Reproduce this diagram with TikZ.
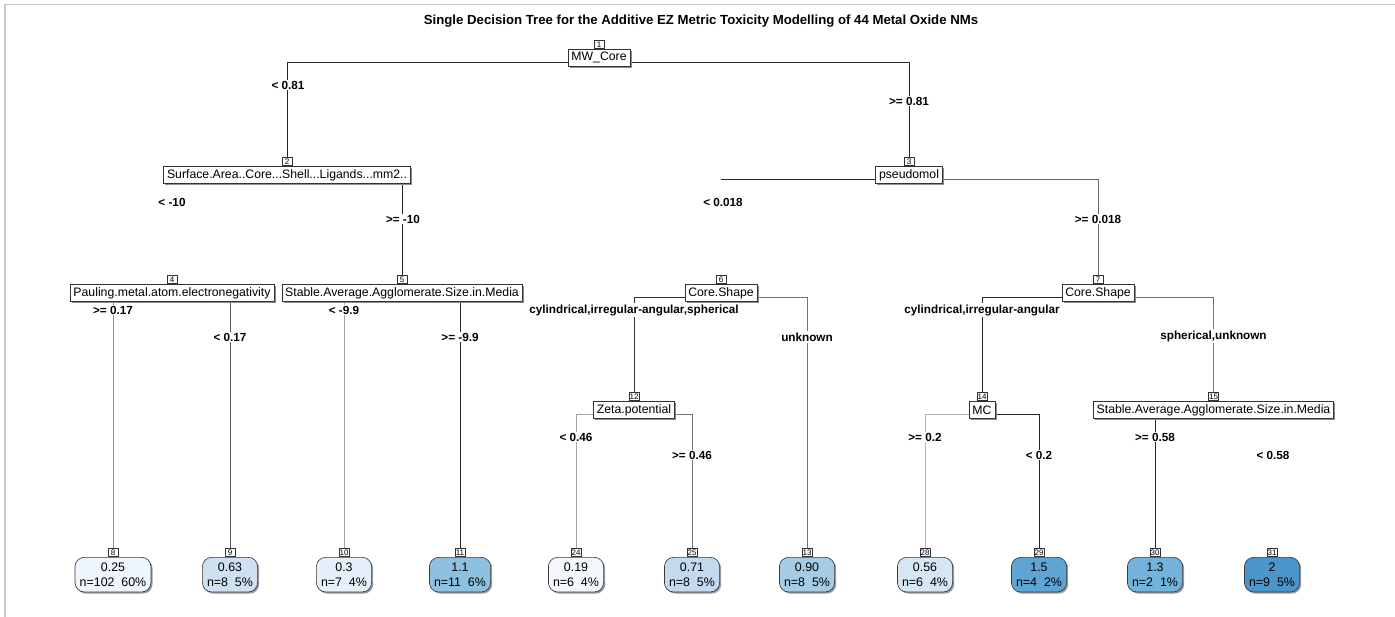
\documentclass[tikz,border=0pt]{standalone}
\usepackage{fontspec}
\setmainfont{Liberation Sans}
\usetikzlibrary{shadows,backgrounds}
\definecolor{framegray}{HTML}{C8C8C8}
\definecolor{leafborder}{HTML}{3A3A3A}
\definecolor{cA}{HTML}{EEF5FC}
\definecolor{cB}{HTML}{CFE0F2}
\definecolor{cC}{HTML}{E6F0FA}
\definecolor{cD}{HTML}{8EC1DF}
\definecolor{cE}{HTML}{F4F8FD}
\definecolor{cF}{HTML}{C3D9EE}
\definecolor{cG}{HTML}{A6CBE4}
\definecolor{cH}{HTML}{D6E6F4}
\definecolor{cI}{HTML}{5EA5D4}
\definecolor{cJ}{HTML}{73B2DA}
\definecolor{cK}{HTML}{4A96CB}
\tikzset{
  splitbox/.style={draw=black!80, fill=white, line width=0.5pt,
    font=\fontsize{9.2}{10}\selectfont, inner xsep=2.5pt, inner ysep=0pt,
    minimum height=12.75pt, anchor=north,
    drop shadow={shadow xshift=1.3pt, shadow yshift=-1.3pt, fill=black!45, opacity=1}},
  numbox/.style={draw=black!80, fill=white, line width=0.4pt,
    font=\fontsize{6}{6}\selectfont, inner sep=0.5pt,
    minimum width=7.5pt, minimum height=6.5pt, anchor=south},
  brlab/.style={font=\bfseries\fontsize{8.8}{10}\selectfont, fill=white, inner sep=1pt},
  leafbox/.style={draw=leafborder, line width=0.5pt, rounded corners=7pt,
    align=center, font=\fontsize{9.3}{11.5}\selectfont,
    inner xsep=3.5pt, inner ysep=1pt, minimum height=26pt, anchor=north,
    drop shadow={shadow xshift=1.2pt, shadow yshift=-1.2pt, fill=black!40, opacity=1, rounded corners=7pt}},
  branch/.style={line width=0.6pt}
}
\begin{document}
\begin{tikzpicture}[x=0.75pt,y=-0.75pt]
\begin{scope}[on background layer]
\fill[white] (0,0) rectangle (1395,617);
\end{scope}
\useasboundingbox (0,0) rectangle (1395,617);
\draw[framegray, line width=1.2pt] (5,617) -- (5,4.5) -- (1395,4.5);

\node[font=\bfseries\fontsize{9.9}{11}\selectfont] (title) at (701,21)
  {Single Decision Tree for the Additive EZ Metric Toxicity Modelling of 44 Metal Oxide NMs};

% split nodes
\node[splitbox] (n1) at (599,49) {MW\_Core};
\node[splitbox] (n2) at (287,166) {Surface.Area..Core...Shell...Ligands...mm2..};
\node[splitbox] (n3) at (909,166) {pseudomol};
\node[splitbox] (n4) at (172,284) {Pauling.metal.atom.electronegativity};
\node[splitbox] (n5) at (402,284) {Stable.Average.Agglomerate.Size.in.Media};
\node[splitbox] (n6) at (721,284) {Core.Shape};
\node[splitbox] (n7) at (1098,284) {Core.Shape};
\node[splitbox] (n12) at (634,401) {Zeta.potential};
\node[splitbox] (n14) at (982,401) {MC};
\node[splitbox] (n15) at (1213.5,401) {Stable.Average.Agglomerate.Size.in.Media};

\foreach \n/\t in {n1/1,n2/2,n3/3,n4/4,n5/5,n6/6,n7/7,n12/12,n14/14,n15/15}
  \node[numbox] (k\t) at (\n.north) {\t};

% leaves
\node[leafbox, fill=cA] (l8)  at (113,557)  {0.25\\n=102~ 60\%};
\node[leafbox, fill=cB] (l9)  at (230,557)  {0.63\\n=8~ 5\%};
\node[leafbox, fill=cC] (l10) at (344,557)  {0.3\\n=7~ 4\%};
\node[leafbox, fill=cD] (l11) at (460,557)  {1.1\\n=11~ 6\%};
\node[leafbox, fill=cE] (l24) at (576,557)  {0.19\\n=6~ 4\%};
\node[leafbox, fill=cF] (l25) at (692,557)  {0.71\\n=8~ 5\%};
\node[leafbox, fill=cG] (l13) at (807,557)  {0.90\\n=8~ 5\%};
\node[leafbox, fill=cH] (l28) at (925,557)  {0.56\\n=6~ 4\%};
\node[leafbox, fill=cI] (l29) at (1039,557) {1.5\\n=4~ 2\%};
\node[leafbox, fill=cJ] (l30) at (1155,557) {1.3\\n=2~ 1\%};
\node[leafbox, fill=cK] (l31) at (1272,557) {2\\n=9~ 5\%};

\foreach \t in {8,9,10,11,24,25,13,28,29,30,31}
  \node[numbox] (k\t) at (l\t.north) {\t};

% split-line levels
\coordinate (h1) at (599,62);
\coordinate (h3) at (909,179);
\coordinate (h6) at (721,297);
\coordinate (h7) at (1098,297);
\coordinate (h12) at (634,414);
\coordinate (h14) at (982,414);

\begin{scope}[on background layer, branch]
  \draw[black!85] (n1.west |- h1) -| (k2.north);
  \draw[black!85] (n1.east |- h1) -| (k3.north);
  \draw[black!85] (k5.north |- n2.south) -- (k5.north);
  \draw[black!85] (n3.west |- h3) -- (h3 -| k6.north);
  \draw[black!60] (n3.east |- h3) -| (k7.north);
  \draw[black!45] (k8.north |- n4.south) -- (k8.north);
  \draw[black!65] (k9.north |- n4.south) -- (k9.north);
  \draw[black!35] (k10.north |- n5.south) -- (k10.north);
  \draw[black!85] (k11.north |- n5.south) -- (k11.north);
  \draw[black!80] (n6.west |- h6) -| (k12.north);
  \draw[black!55] (n6.east |- h6) -| (k13.north);
  \draw[black!85] (n7.west |- h7) -| (k14.north);
  \draw[black!55] (n7.east |- h7) -| (k15.north);
  \draw[black!35] (n12.west |- h12) -| (k24.north);
  \draw[black!55] (n12.east |- h12) -| (k25.north);
  \draw[black!30] (n14.west |- h14) -| (k28.north);
  \draw[black!85] (n14.east |- h14) -| (k29.north);
  \draw[black!85] (k30.north |- n15.south) -- (k30.north);
\end{scope}

% branch labels
\node[brlab] (b1l) at (288,85) {< 0.81};
\node[brlab] (b1r) at (909,101) {>= 0.81};
\node[brlab] (b2l) at (172,202) {< -10};
\node[brlab] (b2r) at (403,219) {>= -10};
\node[brlab] (b3l) at (723,202) {< 0.018};
\node[brlab] (b3r) at (1098,219) {>= 0.018};
\node[brlab] (b4l) at (113,310) {>= 0.17};
\node[brlab] (b4r) at (230,337) {< 0.17};
\node[brlab] (b5l) at (344,310) {< -9.9};
\node[brlab] (b5r) at (460,337) {>= -9.9};
\node[brlab] (b6l) at (634,310) {cylindrical,irregular-angular,spherical};
\node[brlab] (b6r) at (807,337) {unknown};
\node[brlab] (b7l) at (982,310) {cylindrical,irregular-angular};
\node[brlab] (b7r) at (1213.5,336) {spherical,unknown};
\node[brlab] (b12l) at (576,437) {< 0.46};
\node[brlab] (b12r) at (692,455) {>= 0.46};
\node[brlab] (b14l) at (925,437) {>= 0.2};
\node[brlab] (b14r) at (1039,455) {< 0.2};
\node[brlab] (b15l) at (1155,437) {>= 0.58};
\node[brlab] (b15r) at (1273,455) {< 0.58};
\end{tikzpicture}
\end{document}
